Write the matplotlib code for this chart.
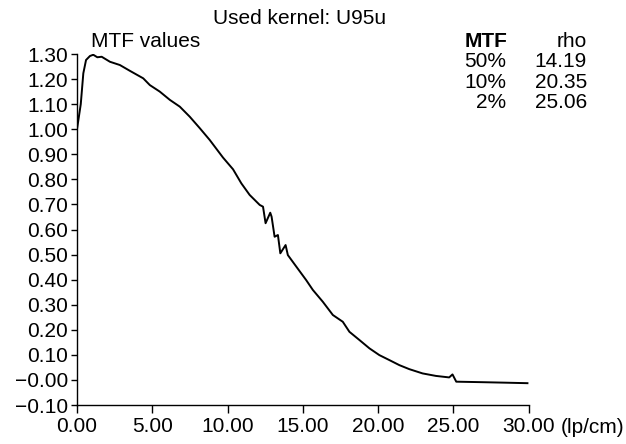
import matplotlib
matplotlib.use("Agg")
import matplotlib.pyplot as plt

plt.rcParams['font.family'] = ['Liberation Sans', 'DejaVu Sans']

# MTF curve
rho = [0.0, 0.25, 0.42, 0.6, 0.86, 1.08, 1.35, 1.64, 2.19, 2.85, 3.51, 4.40,
       4.84, 5.5, 6.17, 6.83, 7.49, 8.16, 8.82, 9.7, 10.37, 10.92, 11.47,
       12.14, 12.36, 12.53, 12.84, 12.93, 13.13, 13.35, 13.51, 13.86, 14.01,
       14.57, 15.23, 15.67, 16.33, 17.0, 17.66, 18.10, 18.77, 19.43, 20.09,
       20.76, 21.42, 22.08, 22.96, 23.85, 24.73, 24.95, 25.2, 26.94, 28.5, 29.93]
mtf = [1.00, 1.10, 1.223, 1.276, 1.292, 1.297, 1.287, 1.289, 1.269, 1.256,
       1.233, 1.203, 1.176, 1.15, 1.117, 1.09, 1.05, 1.004, 0.957, 0.887, 0.84,
       0.784, 0.738, 0.698, 0.691, 0.625, 0.667, 0.651, 0.571, 0.578, 0.505,
       0.538, 0.498, 0.452, 0.398, 0.359, 0.312, 0.259, 0.232, 0.192, 0.159,
       0.126, 0.099, 0.079, 0.059, 0.043, 0.026, 0.016, 0.010, 0.022, -0.007,
       -0.009, -0.011, -0.013]

# table in the top right corner
mtf_levels = ["50%", "10%", "2%"]
rho_levels = ["14.19", "20.35", "25.06"]

x_ticks = [0, 5, 10, 15, 20, 25, 30]
x_labels = ["0.00", "5.00", "10.00", "15.00", "20.00", "25.00", "30.00"]
y_ticks = [1.3, 1.2, 1.1, 1.0, 0.9, 0.8, 0.7, 0.6, 0.5, 0.4, 0.3, 0.2, 0.1, 0.0, -0.1]
y_labels = ["1.30", "1.20", "1.10", "1.00", "0.90", "0.80", "0.70", "0.60",
            "0.50", "0.40", "0.30", "0.20", "0.10", "\u22120.00", "\u22120.10"]

W, H = 626, 444
fig = plt.figure(figsize=(W / 100, H / 100), dpi=100)
ax = fig.add_axes([77 / W, 1 - 405 / H, (528.5 - 77) / W, (405 - 54) / H])

ax.plot(rho, mtf, color='black', lw=1.4)

ax.set_xlim(0, 30)
ax.set_ylim(-0.1, 1.3)
ax.set_xticks(x_ticks)
ax.set_xticklabels(x_labels)
ax.set_yticks(y_ticks)
ax.set_yticklabels(y_labels)
fs = 15
ax.tick_params(axis='both', labelsize=fs, colors='black', width=1.0)
ax.tick_params(axis='x', length=5.5, pad=3)
ax.tick_params(axis='y', length=4.5, pad=2)

for s in ['top', 'right']:
    ax.spines[s].set_visible(False)
for s in ['left', 'bottom']:
    ax.spines[s].set_linewidth(1.0)

def px(x, y):
    return x / W, 1 - y / H

fig.text(*px(300, 19), "Used kernel: U95u", fontsize=fs, ha='center', va='center')
fig.text(*px(91, 41), "MTF values", fontsize=fs, ha='left', va='center')
fig.text(*px(507, 41), "MTF", fontsize=fs, ha='right', va='center', fontweight='bold')
fig.text(*px(587, 41), "rho", fontsize=fs, ha='right', va='center')
for i, (m, r) in enumerate(zip(mtf_levels, rho_levels)):
    yy = 61.5 + i * 20.5
    fig.text(*px(506, yy), m, fontsize=fs, ha='right', va='center')
    fig.text(*px(587, yy), r, fontsize=fs, ha='right', va='center')

fig.text(*px(561, 427), "(lp/cm)", fontsize=fs, ha='left', va='center')

fig.savefig("out.png", dpi=100)
